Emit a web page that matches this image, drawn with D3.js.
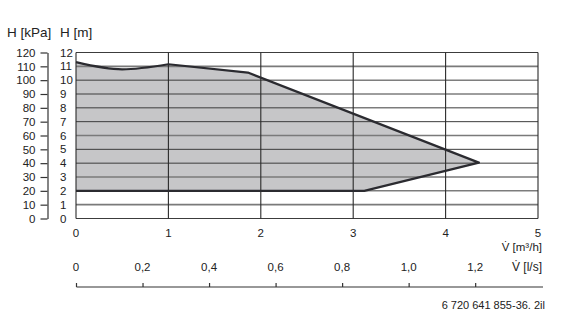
<!DOCTYPE html>
<html>
<head>
<meta charset="utf-8">
<script src="https://cdn.jsdelivr.net/npm/d3@7"></script>
<style>
  body { margin: 0; background: #fff; }
  svg text { font-family: "Liberation Sans", Arial, sans-serif; fill: #222; }
</style>
</head>
<body>
<div id="chart"></div>
<script>
// pump curve outline (flow in m3/h, head in m)
var dipFlow = [0, 0.5, 1.0];          // curved part at low flow
var dipHead = [11.3, 10.78, 11.15];
var topFlow = [1.86, 4.36];           // straight part
var topHead = [10.55, 4.04];
var bottomFlow = [3.12, 0];
var bottomHead = [2, 2];

var headTicksM = [0, 1, 2, 3, 4, 5, 6, 7, 8, 9, 10, 11, 12];
var headTicksKPa = [0, 10, 20, 30, 40, 50, 60, 70, 80, 90, 100, 110, 120];
var flowTicks = [0, 1, 2, 3, 4, 5];
var lsTicks = [0, 0.2, 0.4, 0.6, 0.8, 1.0, 1.2];
var lightLines = [1, 3, 6, 11];

var width = 566, height = 326;
var svg = d3.select('#chart').append('svg')
    .attr('width', width)
    .attr('height', height);

// scales
var x = d3.scaleLinear().domain([0, 5]).range([76, 538]);
var y = d3.scaleLinear().domain([0, 12]).range([218.5, 52.5]);
var yKPa = d3.scaleLinear().domain([0, 120]).range([218.5, 52.5]);
// l/s axis: 1 l/s = 3.6 m3/h
var xLs = d3.scaleLinear().domain([0, 5 / 3.6]).range([76, 538]);

var pairs = function(fs, hs) { return fs.map(function(f, i) { return [f, hs[i]]; }); };
var smooth = d3.line()
    .x(function(d) { return x(d[0]); })
    .y(function(d) { return y(d[1]); })
    .curve(d3.curveMonotoneX);
var straight = d3.line()
    .x(function(d) { return x(d[0]); })
    .y(function(d) { return y(d[1]); });

var rest = pairs(topFlow, topHead).concat(pairs(bottomFlow, bottomHead));
var outlineD = smooth(pairs(dipFlow, dipHead)) + straight(rest).replace(/^M/, 'L');

// filled area
svg.append('path')
    .attr('d', outlineD + 'Z')
    .attr('fill', '#c6c6c8');

// horizontal gridlines
svg.append('g').selectAll('line')
    .data(headTicksM)
    .enter().append('line')
    .attr('x1', x(0)).attr('x2', x(5))
    .attr('y1', function(d) { return y(d); })
    .attr('y2', function(d) { return y(d); })
    .attr('stroke', function(d) { return lightLines.indexOf(d) >= 0 ? '#7a7a7a' : '#3c3c3c'; })
    .attr('stroke-width', function(d) { return lightLines.indexOf(d) >= 0 ? 1.6 : 1; });

// vertical gridlines
svg.append('g').selectAll('line')
    .data(flowTicks)
    .enter().append('line')
    .attr('x1', function(d) { return x(d); })
    .attr('x2', function(d) { return x(d); })
    .attr('y1', y(12)).attr('y2', y(0))
    .attr('stroke', '#2a2a2a')
    .attr('stroke-width', 1.1);

// curve on top
svg.append('path')
    .attr('d', outlineD)
    .attr('fill', 'none')
    .attr('stroke', '#2b2b30')
    .attr('stroke-width', 2.2)
    .attr('stroke-linejoin', 'round');

// kPa axis
var kpaAxis = svg.append('g')
    .attr('transform', 'translate(47.5,0)')
    .call(d3.axisLeft(yKPa).tickValues(headTicksKPa).tickSize(7).tickPadding(5).tickSizeOuter(0));
kpaAxis.select('.domain').attr('stroke', '#333').attr('stroke-width', 1.2);
kpaAxis.selectAll('.tick line').attr('stroke', '#333').attr('stroke-width', 1.2);
kpaAxis.selectAll('text')
    .attr('font-size', '11.5px')
    .attr('font-family', '"Liberation Sans", Arial, sans-serif')
    .attr('fill', '#222');

// m labels
svg.append('g').selectAll('text')
    .data(headTicksM)
    .enter().append('text')
    .text(function(d) { return d; })
    .attr('x', 60)
    .attr('y', function(d) { return y(d); })
    .attr('dy', '.35em')
    .attr('font-size', '11.5px');

// axis titles
svg.append('text').text('H [kPa]')
    .attr('x', 7).attr('y', 37).attr('font-size', '13.5px');
svg.append('text').text('H [m]')
    .attr('x', 60).attr('y', 37).attr('font-size', '13.5px');

// flow labels m3/h
svg.append('g').selectAll('text')
    .data(flowTicks)
    .enter().append('text')
    .text(function(d) { return d; })
    .attr('x', function(d) { return x(d); })
    .attr('y', 237)
    .attr('text-anchor', 'middle')
    .attr('font-size', '11.5px');
svg.append('text').text('V\u0307 [m\u00b3/h]')
    .attr('x', 542).attr('y', 251)
    .attr('text-anchor', 'end')
    .attr('font-size', '11.5px');

// l/s axis
var lsAxis = svg.append('g')
    .attr('transform', 'translate(0,287)')
    .call(d3.axisTop(xLs).tickValues(lsTicks).tickSize(4).tickFormat('').tickSizeOuter(0));
lsAxis.select('.domain').attr('d', 'M76.5,0H543').attr('stroke', '#333').attr('stroke-width', 1.2);
lsAxis.selectAll('.tick line').attr('stroke', '#333').attr('stroke-width', 1.2);
svg.append('g').selectAll('text')
    .data(lsTicks)
    .enter().append('text')
    .text(function(d) { return d === 0 ? '0' : d3.format('.1f')(d).replace('.', ','); })
    .attr('x', function(d) { return xLs(d); })
    .attr('y', 271)
    .attr('text-anchor', 'middle')
    .attr('font-size', '11.5px');
svg.append('text').text('V\u0307 [l/s]')
    .attr('x', 542).attr('y', 271)
    .attr('text-anchor', 'end')
    .attr('font-size', '12px');

// figure code
svg.append('text').text('6 720 641 855-36. 2il')
    .attr('x', 545).attr('y', 309)
    .attr('text-anchor', 'end')
    .attr('font-size', '11px');
</script>
</body>
</html>
